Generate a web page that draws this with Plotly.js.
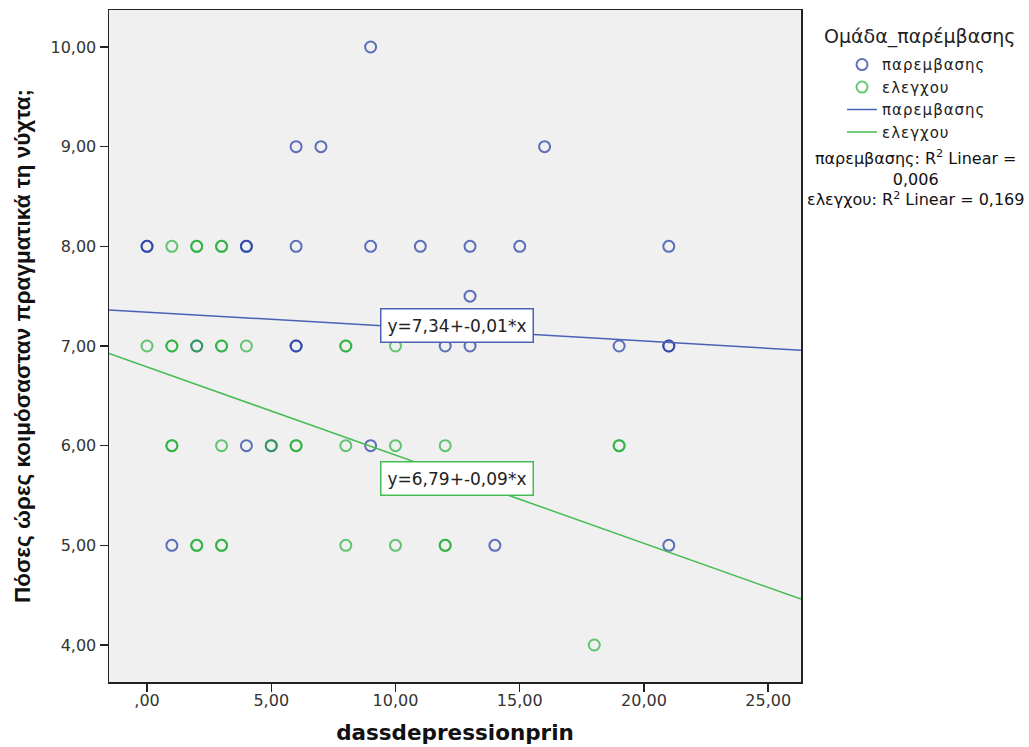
<!DOCTYPE html>
<html>
<head>
<meta charset="utf-8">
<script src="https://cdn.plot.ly/plotly-3.0.1.min.js"></script>
<style>
html, body { margin: 0; padding: 0; background: #ffffff; }
#chart { width: 1029px; height: 747px; }
.legendtext { letter-spacing: 1px; }
</style>
</head>
<body>
<div id="chart"></div>
<script>
// ---- data ----
const groupNames = ["παρεμβασης", "ελεγχου"];

// παρεμβασης (intervention) group
const blueX = [9, 6, 7, 16, 0, 0, 4, 4, 6, 9, 11, 13, 15, 21, 13, 2, 6, 6, 12, 13, 19, 21, 21, 4, 5, 9, 1, 14, 21];
const blueY = [10, 9, 9, 9, 8, 8, 8, 8, 8, 8, 8, 8, 8, 8, 7.5, 7, 7, 7, 7, 7, 7, 7, 7, 6, 6, 6, 5, 5, 5];

// ελεγχου (control) group
const greenX = [1, 2, 2, 3, 3, 0, 1, 1, 2, 3, 3, 4, 8, 8, 10, 1, 1, 3, 5, 6, 6, 8, 10, 12, 19, 19, 2, 2, 3, 3, 8, 10, 12, 12, 18];
const greenY = [8, 8, 8, 8, 8, 7, 7, 7, 7, 7, 7, 7, 7, 7, 7, 6, 6, 6, 6, 6, 6, 6, 6, 6, 6, 6, 5, 5, 5, 5, 5, 5, 5, 5, 4];

// linear fit coefficients (intercept, slope) per group
const fitIntercept = [7.34, 6.79];
const fitSlope = [-0.0145, -0.0885];
const fitLabels = ["y=7,34+-0,01*x", "y=6,79+-0,09*x"];
const r2Labels = ["0,006", "0,169"];

// axis ticks
const xTickVals = [0, 5, 10, 15, 20, 25];
const xTickText = [",00", "5,00", "10,00", "15,00", "20,00", "25,00"];
const yTickVals = [4, 5, 6, 7, 8, 9, 10];
const yTickText = ["4,00", "5,00", "6,00", "7,00", "8,00", "9,00", "10,00"];

// ---- styling ----
const xRange = [-1.53, 26.32];
const yRange = [3.629, 10.371];
const blueMarker = "rgba(35,60,165,0.72)";
const greenMarker = "rgba(25,172,45,0.66)";
const blueLine = "#4a62b4";
const greenLine = "#45bd52";
const font = "DejaVu Sans, Liberation Sans, Arial, sans-serif";

function fitY(i) {
  return xRange.map(x => fitIntercept[i] + fitSlope[i] * x);
}

const traces = [
  {
    type: "scatter", mode: "markers", x: blueX, y: blueY, name: groupNames[0],
    marker: { symbol: "circle-open", size: 11, color: blueMarker, line: { width: 2, color: blueMarker } },
    cliponaxis: false
  },
  {
    type: "scatter", mode: "markers", x: greenX, y: greenY, name: groupNames[1],
    marker: { symbol: "circle-open", size: 11, color: greenMarker, line: { width: 2, color: greenMarker } },
    cliponaxis: false
  },
  {
    type: "scatter", mode: "lines", x: xRange, y: fitY(0), name: groupNames[0],
    line: { color: blueLine, width: 1.5 }
  },
  {
    type: "scatter", mode: "lines", x: xRange, y: fitY(1), name: groupNames[1],
    line: { color: greenLine, width: 1.5 }
  }
];

const layout = {
  width: 1029, height: 747,
  margin: { l: 109, r: 228, t: 10, b: 65, pad: 0 },
  paper_bgcolor: "#ffffff",
  plot_bgcolor: "#f0f0f0",
  showlegend: true,
  hovermode: false,
  font: { family: font, color: "#222" },
  xaxis: {
    range: xRange, autorange: false,
    tickvals: xTickVals, ticktext: xTickText,
    ticks: "outside", ticklen: 8, tickwidth: 1.5, tickcolor: "#222",
    ticklabelstandoff: -5,
    showline: true, linecolor: "#222", linewidth: 1.5, mirror: true,
    showgrid: false, zeroline: false,
    tickfont: { family: font, size: 16, color: "#333" },
    title: { text: "dassdepressionprin", font: { family: font, size: 21.5, weight: "bold", color: "#111" }, standoff: 16 },
    automargin: false
  },
  yaxis: {
    range: yRange, autorange: false,
    tickvals: yTickVals, ticktext: yTickText,
    ticks: "outside", ticklen: 8, tickwidth: 1.5, tickcolor: "#222",
    showline: true, linecolor: "#222", linewidth: 1.5, mirror: true,
    showgrid: false, zeroline: false,
    tickfont: { family: font, size: 16, color: "#333" },
    title: {
      text: "Πόσες ώρες κοιμόσασταν πραγματικά τη νύχτα;",
      font: { family: "Liberation Sans, Arial, sans-serif", size: 22.5, weight: "bold", color: "#111" },
      standoff: 13
    },
    automargin: false
  },
  legend: {
    x: 1.0593, xanchor: "left", y: 0.943, yanchor: "top",
    bgcolor: "rgba(0,0,0,0)", borderwidth: 0,
    font: { family: font, size: 15, color: "#222" },
    itemwidth: 30, tracegroupgap: 0
  },
  annotations: [
    {
      xref: "x", yref: "y", x: 12.46, y: 7.21, text: fitLabels[0], showarrow: false,
      font: { family: font, size: 17, color: "#222" },
      bgcolor: "#ffffff", bordercolor: blueLine, borderwidth: 1.5, borderpad: 6
    },
    {
      xref: "x", yref: "y", x: 12.46, y: 5.67, text: fitLabels[1], showarrow: false,
      font: { family: font, size: 17, color: "#222" },
      bgcolor: "#ffffff", bordercolor: greenLine, borderwidth: 1.5, borderpad: 6
    },
    {
      xref: "paper", yref: "paper", x: (919 - 109) / 692, y: 1 - (37 - 10) / 672,
      text: "Ομάδα_παρέμβασης", showarrow: false, xanchor: "center", yanchor: "middle",
      font: { family: font, size: 19, color: "#222" }
    },
    {
      xref: "paper", yref: "paper", x: (915 - 109) / 692, y: 1 - (178 - 10) / 672,
      text: groupNames[0] + ": R<sup>2</sup> Linear =<br>" + r2Labels[0] + "<br>" + groupNames[1] + ": R<sup>2</sup> Linear = " + r2Labels[1],
      showarrow: false, xanchor: "center", yanchor: "middle", align: "center",
      font: { family: font, size: 16, color: "#111" }
    }
  ]
};

Plotly.newPlot("chart", traces, layout, { displayModeBar: false, staticPlot: true });
</script>
</body>
</html>
